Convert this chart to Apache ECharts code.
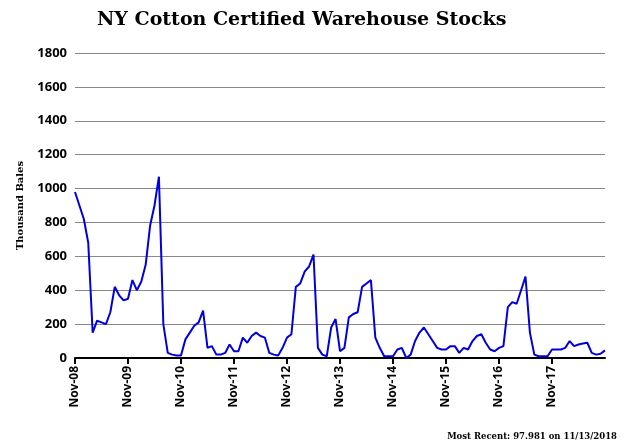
<!DOCTYPE html><html><head><meta charset="utf-8">
<script src="https://cdn.jsdelivr.net/npm/echarts@6/dist/echarts.min.js"></script>
<style>html,body{margin:0;padding:0;background:#fff}#c{width:625px;height:447px}</style></head><body><div id="c"></div>
<script>
const yearLabels=['Nov-08','Nov-09','Nov-10','Nov-11','Nov-12','Nov-13','Nov-14','Nov-15','Nov-16','Nov-17','Nov-18'];
const stocks=[
980,900,820,680,150,220,210,200,270,420,370,340,
350,460,400,450,550,780,900,1070,200,30,20,15,
15,110,150,190,210,280,60,70,20,20,30,80,
40,40,120,90,130,150,130,120,30,20,15,60,
120,140,420,440,510,540,610,60,20,10,180,230,
40,60,240,260,270,420,440,460,120,60,10,10,
10,50,60,0,20,100,150,180,140,100,60,50,
50,70,70,30,60,50,100,130,140,90,50,40,
60,70,300,330,320,400,480,150,20,10,10,10,
50,50,50,60,100,70,80,85,90,30,20,25,45];
const cats=stocks.map((v,i)=>i%12===0?yearLabels[i/12]:String(i));
const serif='"DejaVu Serif","Liberation Serif",serif';
const ch=echarts.init(document.getElementById('c'));
ch.setOption({
 animation:false,
 title:{text:'NY Cotton Certified Warehouse Stocks',left:92,top:6,textStyle:{fontFamily:serif,fontWeight:'bold',fontSize:19,color:'#000'}},
 graphic:[{type:'text',right:8,bottom:6,style:{text:'Most Recent: 97.981 on 11/13/2018',fontFamily:serif,fontWeight:'bold',fontSize:8.5,fill:'#000'}}],
 grid:{left:75,right:20,top:53,bottom:89},
 xAxis:{type:'category',data:cats,boundaryGap:false,
  axisLine:{lineStyle:{color:'#000',width:2}},
  axisTick:{interval:(i)=>i%12===0&&i<120,length:6,lineStyle:{color:'#000',width:2}},
  axisLabel:{interval:(i)=>i%12===0&&i<120,rotate:90,color:'#000',fontWeight:'bold',fontSize:12,fontFamily:'"Open Sans",sans-serif'},
  splitLine:{show:false}},
 yAxis:{type:'value',min:0,max:1800,interval:200,name:'Thousand Bales',nameLocation:'middle',nameGap:50,
  nameTextStyle:{fontFamily:serif,fontWeight:'bold',fontSize:10,color:'#000'},
  axisLine:{show:false},axisTick:{show:false},
  axisLabel:{formatter:v=>String(v),color:'#000',fontWeight:'bold',fontSize:13,fontFamily:'"Open Sans",sans-serif'},
  splitLine:{lineStyle:{color:'#888',width:1}}},
 series:[{type:'line',data:stocks,symbol:'none',lineStyle:{color:'#0000dd',width:2}}]
});
</script></body></html>
